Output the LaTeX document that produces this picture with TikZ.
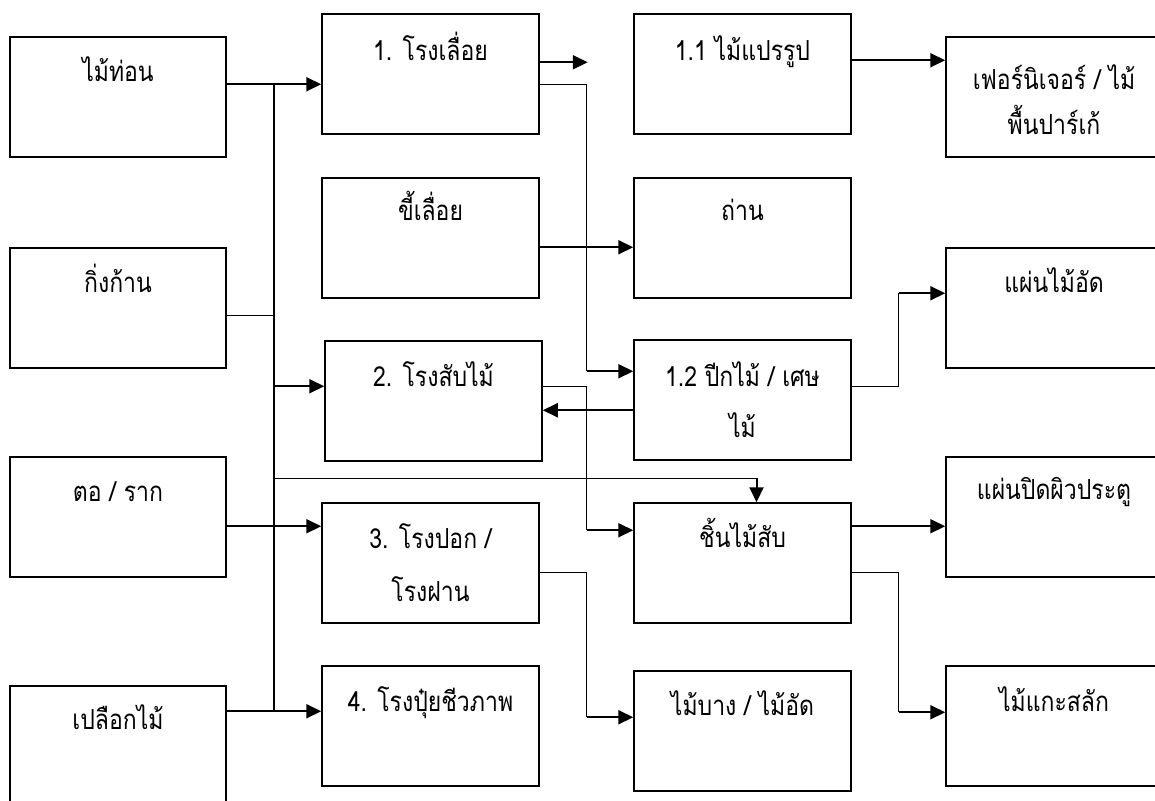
\documentclass[tikz,border=0pt]{standalone}
\usepackage{graphicx}
\usepackage{fontspec}
\newfontfamily\thaifont[Script=Thai]{Loma}
\usetikzlibrary{calc,arrows.meta}
% Thai labels: a little taller than wide, as in a narrow Thai face
\newcommand\thlbl[1]{\scalebox{1}[1.2]{#1}}

\begin{document}
\begin{tikzpicture}[x=1pt,y=1pt,
  box/.style={draw, line width=1.5pt, minimum width=216pt, minimum height=120pt, inner sep=0pt},
  tx/.style={anchor=base, inner sep=0pt, label distance=-#1pt,
             font=\thaifont\fontsize{23}{26}\selectfont},
  ln/.style={line width=1.3pt},
  arr/.style={line width=2pt, -{Triangle[length=15pt,width=14pt]}},
]
\useasboundingbox (0,0) rectangle (1155,-800);
\clip (0,0) rectangle (1155,-800);

% raw material column
\node[box, label={[tx=45]north:\thlbl{ไม้ท่อน}}]   (A) at (118,-97)  {};
\node[box, label={[tx=45]north:\thlbl{กิ่งก้าน}}]   (B) at (118,-308) {};
\node[box, label={[tx=45]north:\thlbl{ตอ / ราก}}]  (C) at (118,-517) {};
\node[box, label={[tx=44]north:\thlbl{เปลือกไม้}}]  (D) at (118,-746) {};

% mills
\node[box, minimum width=217pt, label={[tx=47]north:\thlbl{1. โรงเลื่อย}}] (P1) at (430.5,-74) {};
\node[box, minimum width=217pt, label={[tx=43]north:\thlbl{ขี้เลื่อย}}]    (S)  at (430.5,-238) {};
\node[box, minimum width=217pt, label={[tx=46]north:\thlbl{2. โรงสับไม้}}] (P2) at (433.5,-401) {};
\node[box, minimum width=217pt, label={[tx=46]north:\thlbl{3. โรงปอก /}}, label={[tx=99]north:\thlbl{โรงฝาน}}] (P3) at (430.5,-563) {};
\node[box, minimum width=217pt, label={[tx=46]north:\thlbl{4. โรงปุ๋ยชีวภาพ}}] (P4) at (430.5,-726) {};

% intermediate products
\node[box, minimum width=217pt, label={[tx=47]north:\thlbl{1.1 ไม้แปรรูป}}] (R11) at (742.5,-74) {};
\node[box, minimum width=217pt, label={[tx=43]north:\thlbl{ถ่าน}}]          (Ch)  at (742.5,-238) {};
\node[box, minimum width=217pt, label={[tx=47]north:\thlbl{1.2 ปีกไม้ / เศษ}}, label={[tx=98]north:\thlbl{ไม้}}] (R12) at (742.5,-400) {};
\node[box, minimum width=217pt, label={[tx=45]north:\thlbl{ชิ้นไม้สับ}}]     (Chip) at (742.5,-563) {};
\node[box, minimum width=217pt, label={[tx=45]north:\thlbl{ไม้บาง / ไม้อัด}}] (V)   at (742.5,-731) {};

% end products
\node[box, label={[tx=53]north:\thlbl{เฟอร์นิเจอร์ / ไม้}}, label={[tx=98]north:\thlbl{พื้นปาร์เก้}}] (F) at (1054,-97) {};
\node[box, label={[tx=45]north:\thlbl{แผ่นไม้อัด}}]      (PW) at (1054,-308) {};
\node[box, label={[tx=43]north:\thlbl{แผ่นปิดผิวประตู}}] (DS) at (1054,-517) {};
\node[box, label={[tx=46]north:\thlbl{ไม้แกะสลัก}}]      (CV) at (1054,-726) {};

% routing columns between the boxes
\coordinate (m12) at ($(A.east)!0.5!(P1.west)$);
\coordinate (m23) at ($(P1.east)!0.5!(R11.west)$);
\coordinate (m34) at ($(R11.east)!0.5!(F.west)$);

% ports
\coordinate (a1)  at ($(A.north east)+(0,-48)$);
\coordinate (b1)  at ($(B.north east)+(0,-68)$);
\coordinate (c1)  at ($(C.north east)+(0,-70)$);
\coordinate (d1)  at ($(D.north east)+(0,-26)$);
\coordinate (p2w) at ($(P2.north west)+(0,-46)$);
\coordinate (ct)  at ($(Chip.north)+(14,0)$);
\coordinate (cb)  at ($(ct)+(0,24)$);
\coordinate (e1)  at ($(P1.north east)+(0,-49)$);
\coordinate (e1x) at ($(e1)+(48,0)$);
\coordinate (e2)  at ($(P1.north east)+(0,-71)$);
\coordinate (r12in) at ($(R12.north west)+(0,-32)$);
\coordinate (s1)  at ($(S.north east)+(0,-70)$);
\coordinate (f1)  at ($(R11.north east)+(0,-47)$);
\coordinate (r1)  at ($(R12.north east)+(0,-47)$);
\coordinate (pwin) at ($(PW.north west)+(0,-46)$);
\coordinate (r2)  at ($(R12.north west)+(0,-71)$);
\coordinate (p2o) at ($(P2.north east)+(0,-46)$);
\coordinate (chin) at ($(Chip.north west)+(0,-28)$);
\coordinate (ch1) at ($(Chip.north east)+(0,-24)$);
\coordinate (ch2) at ($(Chip.north east)+(0,-70)$);
\coordinate (cvin) at ($(CV.north west)+(0,-47)$);
\coordinate (p3o) at ($(P3.north east)+(0,-70)$);
\coordinate (vin) at ($(V.north west)+(0,-47)$);

% feed bus from the raw materials
\draw[ln] (a1 -| m12) -- (d1 -| m12);
\draw[ln] (b1) -- (b1 -| m12);
\draw[arr] (a1) -- (a1 -| P1.west);
\draw[arr] (p2w -| m12) -- (p2w);
\draw[ln] (cb -| m12) -- (cb);
\draw[arr] (cb) -- (ct);
\draw[arr] (c1) -- (c1 -| P3.west);
\draw[arr] (d1) -- (d1 -| P4.west);

% sawmill outputs
\draw[arr] (e1) -- (e1x);
\draw[ln] (e2) -- (e2 -| m23) -- (m23 |- r12in);
\draw[arr] (m23 |- r12in) -- (r12in);
\draw[arr] (s1) -- (s1 -| Ch.west);
\draw[arr] (f1) -- (f1 -| F.west);

% offcuts
\draw[ln] (r1) -- (r1 -| m34) -- (m34 |- pwin);
\draw[arr] (m34 |- pwin) -- (pwin);
\draw[arr] (r2) -- (r2 -| P2.east);

% chipping mill
\draw[ln] (p2o) -- (p2o -| m23) -- (m23 |- chin);
\draw[arr] (m23 |- chin) -- (chin);
\draw[arr] (ch1) -- (ch1 -| DS.west);
\draw[ln] (ch2) -- (ch2 -| m34) -- (m34 |- cvin);
\draw[arr] (m34 |- cvin) -- (cvin);

% peeling / slicing mill
\draw[ln] (p3o) -- (p3o -| m23) -- (m23 |- vin);
\draw[arr] (m23 |- vin) -- (vin);
\end{tikzpicture}
\end{document}
